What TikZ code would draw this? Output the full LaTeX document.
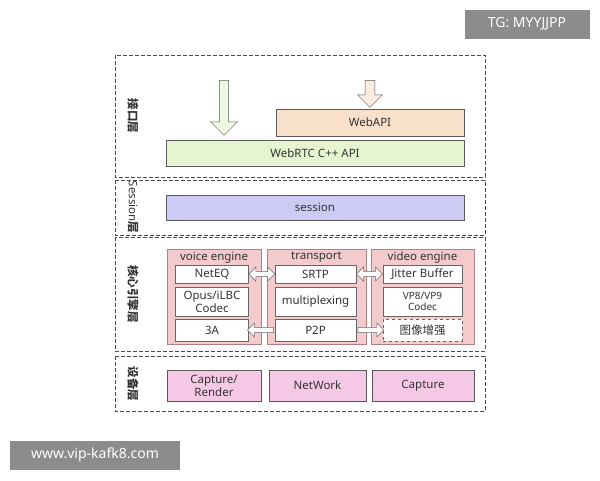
\documentclass[tikz,border=0pt]{standalone}
\usepackage{fontspec}
\setmainfont{Noto Sans}
\newfontfamily\cjk{Noto Sans CJK SC}
\usetikzlibrary{shapes.arrows,calc}
\newcommand{\fs}{\fontsize{11.5}{13}\selectfont}
\begin{document}
\begin{tikzpicture}[x=1pt,y=-1pt,
 layer/.style={draw=black!70,line width=0.8pt,dash pattern=on 4pt off 2pt},
 bx/.style={draw=black!65,line width=0.6pt,font=\fs,align=center,inner sep=0pt,text=black!80},
 grp/.style={draw=red!40!black!50,fill=pink0,line width=0.6pt},
 ibox/.style={draw=black!60,fill=white,line width=0.5pt,font=\fs,align=center,inner sep=0pt,minimum width=73pt,text=black!80},
 lbl/.style={font=\cjk\fs\bfseries,rotate=-90,text=black!80},
 darr/.style={double arrow,draw=black!60,fill=white,line width=0.5pt,minimum height=26pt,minimum width=14pt,double arrow head extend=3pt,inner sep=1.5pt},
 darr1/.style={single arrow,draw=black!60,fill=white,line width=0.5pt,single arrow head extend=3pt,minimum width=14pt,inner sep=1.5pt,minimum height=26pt}]
\definecolor{pink0}{HTML}{F4CBCD}
\definecolor{peach}{HTML}{F9E0CA}
\definecolor{lgreen}{HTML}{E5F5CF}
\definecolor{lav}{HTML}{CCCBF3}
\definecolor{mag}{HTML}{F5C9E5}
\useasboundingbox (0,0) rectangle (600,480);
\fill[white] (0,0) rectangle (600,480);
% watermarks
\node[fill=black!45,text=white,minimum width=125pt,minimum height=29pt,font=\fontsize{14}{16}\selectfont] (wm1) at (527,24) {TG: MYYJJPP};
\node[fill=black!45,text=white,minimum width=170pt,minimum height=29pt,font=\fontsize{14}{16}\selectfont] (wm2) at (95,455) {www.vip-kafk8.com};
% layers
\draw[layer] (115,55) rectangle (485,177);
\draw[layer] (115,180) rectangle (485,235);
\draw[layer] (115,237) rectangle (485,351);
\draw[layer] (115,356) rectangle (485,411);
\node[lbl] (l1) at (133,116) {接口层};
\node[lbl,font=\fs\bfseries] (l2) at (133,207) {Session{\cjk 层}};
\node[lbl] (l3) at (133,294) {核心引擎层};
\node[lbl] (l4) at (133,384) {设备层};
% layer 1
\node[bx,fill=peach,minimum width=188pt,minimum height=27pt] (web) at (370,122.5) {WebAPI};
\node[bx,fill=lgreen,minimum width=298pt,minimum height=26pt] (cpp) at (315,153) {WebRTC C++ API};
\node[single arrow,shape border rotate=270,draw=black!65,fill=lgreen!60,minimum height=55pt,minimum width=27pt,single arrow head extend=6pt,inner sep=3pt] (a1) at (224,105.5) {};
\node[single arrow,shape border rotate=270,draw=black!65,fill=peach!60,minimum height=27pt,minimum width=25pt,single arrow head extend=5pt,inner sep=3pt] (a2) at (370,91.5) {};
% layer 2
\node[bx,fill=lav,minimum width=298pt,minimum height=25pt] (sess) at (315,207.5) {session};
% layer 3 groups
\draw[grp] (167,249) rectangle (261,344);
\draw[grp] (267,249) rectangle (366,344);
\draw[grp] (371,249) rectangle (474,344);
\node[font=\fs,text=black!80] (g1) at (214,257.5) {voice engine};
\node[font=\fs,text=black!80] (g2) at (316.5,257.5) {transport};
\node[font=\fs,text=black!80] (g3) at (422.5,257.5) {video engine};
\node[ibox,minimum height=18pt] (neteq) at (212,274) {NetEQ};
\node[ibox,minimum height=29pt] (opus) at (212,301.5) {Opus/iLBC\\Codec};
\node[ibox,minimum height=22pt] (a3) at (212,330) {3A};
\node[ibox,minimum width=81pt,minimum height=18pt] (srtp) at (315.5,274) {SRTP};
\node[ibox,minimum width=81pt,minimum height=29pt] (mux) at (315.5,301.5) {multiplexing};
\node[ibox,minimum width=81pt,minimum height=22pt] (p2p) at (315.5,330) {P2P};
\node[ibox,minimum width=79pt,minimum height=18pt] (jb) at (422.5,274) {Jitter Buffer};
\node[ibox,minimum width=79pt,minimum height=29pt,font=\fontsize{10}{11.5}\selectfont] (vp) at (422.5,301.5) {VP8/VP9\\Codec};
\node[ibox,minimum width=79pt,minimum height=22pt,dashed,font=\cjk\fs] (enh) at (422.5,330) {图像增强};
\node[darr] (d1) at ($(neteq.east)!0.5!(srtp.west)$) {};
\node[darr] (d2) at ($(srtp.east)!0.5!(jb.west)$) {};
\node[darr1,shape border rotate=180] (d3) at ($(a3.east)!0.5!(p2p.west)$) {};
\node[darr1] (d4) at ($(p2p.east)!0.5!(enh.west)$) {};
% layer 4
\node[bx,fill=mag,minimum width=94pt,minimum height=31pt] (cap1) at (214,385.5) {Capture/\\Render};
\node[bx,fill=mag,minimum width=97pt,minimum height=31pt] (net) at (317.5,385.5) {NetWork};
\node[bx,fill=mag,minimum width=102pt,minimum height=31pt] (cap2) at (423,385.5) {Capture};
\end{tikzpicture}
\end{document}
